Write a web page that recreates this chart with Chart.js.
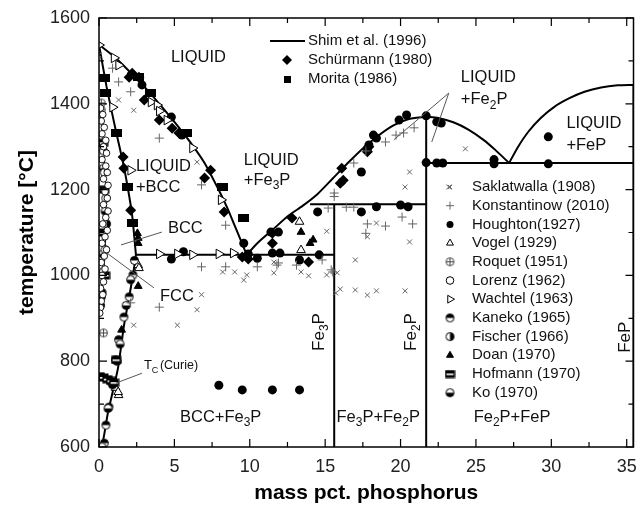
<!DOCTYPE html>
<html><head><meta charset="utf-8">
<script src="https://cdn.jsdelivr.net/npm/chart.js@4.4.1/dist/chart.umd.min.js"></script>
<style>html,body{margin:0;padding:0;background:#fff;}#wrap{width:640px;height:506px;}</style>
</head><body><div id="wrap"><canvas id="c" width="640" height="506"></canvas></div>
<script>
// ---------- axis ticks ----------
const xTickValues=[0,5,10,15,20,25,30,35];
const xMinorValues=[2.5,7.5,12.5,17.5,22.5,27.5,32.5];
const yTickValues=[600,800,1000,1200,1400,1600];
const yMinorValues=[700,900,1100,1300,1500];
const xMin=0, xMax=35.45, yMin=600, yMax=1600;

// ---------- Shim et al. (1996) calculated lines ----------
const liqFeX=[0,1,2,3,4,5,6,7,8,8.5,9,9.4,9.8];
const liqFeT=[1538,1510,1476,1440,1400,1358,1313,1262,1195,1158,1116,1082,1048];
const liqFe3PX=[9.8,10.5,11.5,12.6,13.5,14.5,15.5,16.5,17.5,18.5,19.5,20.5,21.7];
const liqFe3PT=[1048,1075,1106,1140,1162,1190,1226,1262,1296,1325,1349,1364,1370];
const liqFe2PX=[21.7,22.5,23.5,24.5,25.5,26.3,27.2];
const liqFe2PT=[1370,1367,1357,1340,1316,1292,1262];
const liqFePX=[27.2,27.8,28.5,29.3,30.2,31.2,32.2,33.3,34.4,35.45];
const liqFePT=[1262,1300,1336,1367,1393,1413,1428,1438,1443,1444];
const solidusX=[0,0.5,1.1,1.6,1.9,2.2,2.45];
const solidusT=[1538,1440,1340,1262,1206,1140,1048];
const solvusX=[2.45,2.25,1.95,1.66,1.45,1.26,1.05,0.8,0.6,0.4,0.2];
const solvusT=[1048,1000,940,884,830,784,750,712,682,640,600];
const gammaX=[0,0.25,0.42,0.48,0.4,0.22,0];
const gammaT=[1394,1320,1230,1150,1050,970,912];
const eutFeX=[2.45,15.6], eutFeT=[1048,1048];
const fe3pX=[15.6,15.6], fe3pT=[600,1166];
const peritX=[14.0,21.7], peritT=[1166,1166];
const fe2pX=[21.7,21.7], fe2pT=[600,1370];
const eut2X=[21.7,35.45], eut2T=[1262,1262];
const fepX=[35.45,35.45], fepT=[600,1444];

// ---------- experimental data ----------
const schurX=[2.0,2.2,2.65,3.0,4.0,4.85,5.3,7.0,7.4,8.3,9.5,9.9,11.5,11.5,1.6,1.65,2.1,12.8,13.9,16.0,16.1,16.2,17.8,17.9];
const schurT=[1462,1471,1462,1409,1362,1343,1332,1227,1245,1148,1043,1038,1075,1098,1276,1250,1152,1134,1031,1215,1250,1222,1288,1300];
const moritaX=[0.35,0.45,1.15,1.9,2.25,2.65,3.4,5.8,8.2,9.6];
const moritaT=[1460,1425,1332,1206,1122,1462,1425,1332,1206,1134];
const saklX=[0,1.3,2.3,6.5,2.3,5.2,6.5,6.8,8.2,9.0,9.6,9.8,11.6,11.6,13.4,13.9,15.1,15.8,15.1,15.7,16.0,17.0,17.8,18.4,20.3,17.0,17.8,18.4,20.6,20.3,20.6,23.2,24.3];
const saklT=[1514,1409,1385,1264,884,884,920,955,1008,1008,989,1001,1031,1006,1008,999,1001,1006,1103,959,968,966,954,964,964,1036,1090,1122,1078,1206,1241,1206,1295];
const konsX=[0.9,1.3,2.1,4.0,6.8,8.4,6.8,8.4,10.5,11.8,4.0,2.1,15.6,15.6,16.9,17.7,19.0,19.7,20.2,20.9,15.2,16.4,16.9,17.8,19.0,17.7,20.1,20.8,11.9,13.1,14.8,15.4,15.5];
const konsT=[1483,1451,1428,1320,1211,1117,1020,1020,1020,1024,926,936,1192,1184,1262,1290,1311,1327,1332,1344,1157,1159,1159,1120,1115,1098,1136,1120,1029,1024,1036,1013,1008];
const hougX=[2.85,4.8,5.5,4.8,5.6,9.6,10.5,11.5,12.0,11.4,11.9,13.3,14.6,14.5,17.4,18.4,20.0,20.5,7.95,9.5,11.5,13.3,17.4,17.8,17.9,18.2,18.4,19.9,20.4,21.7,22.4,22.7,21.7,22.4,22.8,26.2,26.2,29.8,29.8,9.9];
const hougT=[1444,1369,1327,1038,1055,1075,1040,1052,1052,1101,1101,1036,1048,1148,1148,1160,1164,1160,744,733,733,733,1241,1295,1304,1327,1320,1362,1374,1372,1358,1355,1263,1262,1262,1270,1260,1260,1323,1050];
const vogelX=[2.6,2.65,1.1,1.3,1.27,13.3,13.4];
const vogelT=[1024,1017,738,721,728,1125,1059];
const roquetX=[0.15,0.15,0.3];
const roquetT=[1402,1386,866];
const lorenzX=[0.1,0.25,0.15,0.35,0.2,0.45,0.3,0.5,0.2,0.45,0.55,0.3,0.6,0.4,0.55,0.3,0.6,0.45,0.25,0.55,0.4,0.2,0.5,0.35,0.15,0.4,0.2,0.3,0.1,0.25,0.15,0.1,0.05];
const lorenzT=[1390,1375,1360,1345,1330,1315,1300,1285,1270,1255,1240,1225,1210,1195,1180,1165,1150,1135,1120,1105,1090,1075,1060,1045,1030,1015,1000,985,970,955,940,925,912];
const wachX=[0,1.0,1.3,0.9,2.1,3.45,3.85,4.0,4.5,6.2,8.1,4.0,5.2,6.2,7.95,8.9];
const wachT=[1537,1507,1490,1392,1245,1404,1397,1383,1362,1297,1176,1050,1050,1048,1050,1052];
const kanekoX=[2.25,2.0,1.65,1.3,1.1,0.8,0.66,0.46,0.35,2.35];
const kanekoT=[1001,950,903,850,803,751,693,651,609,1035];
const fischerX=[0.3,0.35,0.45,0.5,0.4,0.3,0.2,0.1];
const fischerT=[1290,1240,1180,1120,1060,1010,960,930];
const doanX=[2.6,2.6,2.55,1.5,2.6,14.2,14.0,13.4];
const doanT=[1087,1075,1098,873,975,1083,1075,1101];
const hofX=[0.05,0.3,0.55,0.8,1.0,1.13,0.27,0.35,0.2,0.4];
const hofT=[765,762,758,754,750,803,1309,1200,1100,1000];
const koX=[0.2,0.6,0.9,1.2,1.4,1.8,2.1,0.3,0.4,0.25,0.15];
const koT=[600,690,745,800,840,930,990,1250,1150,1050,950];

// ---------- annotation texts (data coordinates) ----------
const lblText=['LIQUID','LIQUID','+BCC','LIQUID','+Fe_3P','BCC','FCC','BCC+Fe_3P','Fe_3P+Fe_2P','Fe_2P+FeP','LIQUID','+Fe_2P','LIQUID','+FeP'];
const lblX=[4.77,2.45,2.45,9.6,9.6,4.57,4.04,5.37,15.75,24.85,24.0,24.0,31.0,31.0];
const lblT=[1509,1253,1206,1269,1222,1110,950,668,670,670,1462,1409,1355,1304];
const vlblText=['Fe_3P','Fe_2P','FeP'];
const vlblX=[14.6,20.7,34.9];
const vlblT=[868,868,856];
const leaderX1=[4.17,3.64,2.85,23.2,23.2], leaderT1=[1101,971,772,1425,1425];
const leaderX2=[1.46,0.53,1.13,19.55,22.07], leaderT2=[1071,1052,749,1316,1311];

const legend1=['Shim et al. (1996)','Schürmann (1980)','Morita (1986)'];
const legend2=['Saklatwalla (1908)','Konstantinow (2010)','Houghton(1927)','Vogel (1929)','Roquet (1951)','Lorenz (1962)','Wachtel (1963)','Kaneko (1965)','Fischer (1966)','Doan (1970)','Hofmann (1970)','Ko (1970)'];

const FONT='"Liberation Sans", Arial, sans-serif';
Chart.defaults.font.family=FONT;

function pts(xs,ts){return xs.map((x,i)=>({x:x,y:ts[i]}));}
function mk(w,h,fn){const c=document.createElement('canvas');c.width=w;c.height=h;fn(c.getContext('2d'),w,h);return c;}
const R=4;
const stRoquet=mk(11,11,g=>{g.strokeStyle='#444';g.lineWidth=1;g.beginPath();g.arc(5.5,5.5,4,0,2*Math.PI);g.moveTo(1.5,5.5);g.lineTo(9.5,5.5);g.moveTo(5.5,1.5);g.lineTo(5.5,9.5);g.stroke();});
const halfCircle=(a0,a1)=>mk(11,11,g=>{g.fillStyle='#fff';g.beginPath();g.arc(5.5,5.5,R,0,2*Math.PI);g.fill();g.fillStyle='#000';g.beginPath();g.arc(5.5,5.5,R,a0,a1);g.closePath();g.fill();g.strokeStyle='#000';g.lineWidth=1;g.beginPath();g.arc(5.5,5.5,R,0,2*Math.PI);g.stroke();});
const stKaneko=halfCircle(Math.PI,2*Math.PI);
const stFischer=halfCircle(-Math.PI/2,Math.PI/2);
const stKo=halfCircle(0,Math.PI);
const stHof=mk(11,9,g=>{g.fillStyle='#000';g.fillRect(0.5,0.5,10,8);g.fillStyle='#fff';g.fillRect(2,4,7,1.6);});
const stMorita=mk(11,8,g=>{g.fillStyle='#000';g.fillRect(0,0,11,8);});
const stMoritaLeg=mk(7,7,g=>{g.fillStyle='#000';g.fillRect(0,0,7,7);});

function lineDs(xs,ts,w,tension){return {type:'scatter',data:pts(xs,ts),showLine:true,borderColor:'#000',backgroundColor:'#000',borderWidth:w||2,pointRadius:0,tension:tension||0,order:5};}
function ptDs(xs,ts,style,r,fill,stroke,bw,rot){return {type:'scatter',data:pts(xs,ts),showLine:false,pointStyle:style,pointRadius:r,pointHoverRadius:r,backgroundColor:fill,borderColor:stroke,pointBorderWidth:bw,borderWidth:bw,rotation:rot||0,order:1};}

const datasets=[
 ptDs(saklX,saklT,'crossRot',3.5,'#666','#666',1),
 ptDs(konsX,konsT,'cross',4.5,'#666','#666',1),
 ptDs(lorenzX,lorenzT,'circle',3.3,'#fff','#000',0.9),
 ptDs(roquetX,roquetT,stRoquet,4,'#fff','#444',1),
 ptDs(fischerX,fischerT,stFischer,4,'#000','#000',1),
 ptDs(hofX,hofT,stHof,4,'#000','#000',1),
 ptDs(koX,koT,stKo,4,'#000','#000',1),
 ptDs(kanekoX,kanekoT,stKaneko,4,'#000','#000',1),
 ptDs(vogelX,vogelT,'triangle',5,'#fff','#000',1),
 ptDs(doanX,doanT,'triangle',4.5,'#000','#000',1),
 ptDs(wachX,wachT,'triangle',5.5,'#fff','#000',1,90),
 ptDs(hougX,hougT,'circle',4.5,'#000','#000',0),
 ptDs(moritaX,moritaT,stMorita,4,'#000','#000',0),
 ptDs(schurX,schurT,'rectRot',5.5,'#000','#000',0),
 lineDs(liqFeX,liqFeT,2,0.25),
 lineDs(liqFe3PX,liqFe3PT,2,0.25),
 lineDs(liqFe2PX,liqFe2PT,2,0.25),
 lineDs(liqFePX,liqFePT,2,0.25),
 lineDs(solidusX,solidusT,2,0.2),
 lineDs(solvusX,solvusT,2,0.2),
 lineDs(gammaX,gammaT,1,0.3),
 lineDs(eutFeX,eutFeT,2),
 lineDs(fe3pX,fe3pT,2),
 lineDs(peritX,peritT,2),
 lineDs(fe2pX,fe2pT,2),
 lineDs(eut2X,eut2T,2),
 lineDs(fepX,fepT,2)
];
const legend2Style=[
 ['crossRot',3,'#666','#666',1,0],['cross',4,'#666','#666',1,0],['circle',3.5,'#000','#000',0,0],['triangle',4,'#fff','#000',1,0],
 [stRoquet,4,'#fff','#444',1,0],['circle',3.8,'#fff','#000',1,0],['triangle',4.5,'#fff','#000',1,90],[stKaneko,4,'#000','#000',1,0],
 [stFischer,4,'#000','#000',1,0],['triangle',4,'#000','#000',1,0],[stHof,4,'#000','#000',1,0],[stKo,4,'#000','#000',1,0]];

function rich(ctx,str,x,y,size,align){
  const parts=[];
  for(let i=0;i<str.length;i++){
    if(str[i]==='_'){parts.push({t:str[i+1],s:true});i++;}
    else if(parts.length&&!parts[parts.length-1].s){parts[parts.length-1].t+=str[i];}
    else parts.push({t:str[i],s:false});
  }
  const fN=size+'px '+FONT, fS=Math.round(size*0.72)+'px '+FONT;
  let w=0;parts.forEach(p=>{ctx.font=p.s?fS:fN;p.w=ctx.measureText(p.t).width;w+=p.w;});
  let cx=align==='center'?x-w/2:x;
  ctx.textAlign='left';ctx.textBaseline='middle';
  parts.forEach(p=>{ctx.font=p.s?fS:fN;ctx.fillText(p.t,cx,y+(p.s?size*0.32:0));cx+=p.w;});
}

const deco={
 id:'deco',
 afterDraw(chart){
  const ctx=chart.ctx,a=chart.chartArea,xs=chart.scales.x,ys=chart.scales.y;
  ctx.save();
  // frame
  ctx.strokeStyle='#000';ctx.lineWidth=1.5;
  ctx.strokeRect(a.left,a.top,a.right-a.left,a.bottom-a.top);
  // inward ticks
  ctx.lineWidth=1.2;ctx.beginPath();
  const tx=(v,L)=>{const p=xs.getPixelForValue(v);ctx.moveTo(p,a.bottom);ctx.lineTo(p,a.bottom-L);ctx.moveTo(p,a.top);ctx.lineTo(p,a.top+L);};
  const ty=(v,L)=>{const p=ys.getPixelForValue(v);ctx.moveTo(a.left,p);ctx.lineTo(a.left+L,p);ctx.moveTo(a.right,p);ctx.lineTo(a.right-L,p);};
  xTickValues.forEach(v=>tx(v,8));xMinorValues.forEach(v=>tx(v,5));
  yTickValues.forEach(v=>ty(v,8));yMinorValues.forEach(v=>ty(v,5));
  ctx.stroke();
  // leaders
  ctx.strokeStyle='#555';ctx.lineWidth=1;ctx.beginPath();
  leaderX1.forEach((v,i)=>{ctx.moveTo(xs.getPixelForValue(v),ys.getPixelForValue(leaderT1[i]));ctx.lineTo(xs.getPixelForValue(leaderX2[i]),ys.getPixelForValue(leaderT2[i]));});
  ctx.stroke();
  // region labels
  ctx.fillStyle='#111';
  lblText.forEach((t,i)=>rich(ctx,t,xs.getPixelForValue(lblX[i]),ys.getPixelForValue(lblT[i]),16.5,'left'));
  rich(ctx,'T_C',xs.getPixelForValue(2.98),ys.getPixelForValue(789),13,'left');
  ctx.font='12.5px '+FONT;ctx.fillText('(Curie)',xs.getPixelForValue(2.98)+16,ys.getPixelForValue(789));
  vlblText.forEach((t,i)=>{ctx.save();ctx.translate(xs.getPixelForValue(vlblX[i]),ys.getPixelForValue(vlblT[i]));ctx.rotate(-Math.PI/2);rich(ctx,t,0,0,17,'center');ctx.restore();});
  // legend 1
  ctx.strokeStyle='#000';ctx.lineWidth=2;ctx.beginPath();ctx.moveTo(270,41);ctx.lineTo(305,41);ctx.stroke();
  ctx.fillStyle='#000';
  Chart.helpers.drawPoint(ctx,{pointStyle:'rectRot',radius:5,rotation:0,borderWidth:0},287,60);
  Chart.helpers.drawPoint(ctx,{pointStyle:stMoritaLeg,radius:4,rotation:0,borderWidth:0},287,79);
  ctx.fillStyle='#111';ctx.font='15px '+FONT;ctx.textAlign='left';ctx.textBaseline='middle';
  legend1.forEach((t,i)=>ctx.fillText(t,308,41+19*i));
  // legend 2
  legend2.forEach((t,i)=>{
    const yy=187+18.7*i,s=legend2Style[i];
    ctx.fillStyle=s[2];ctx.strokeStyle=s[3];ctx.lineWidth=s[4];
    Chart.helpers.drawPoint(ctx,{pointStyle:s[0],radius:s[1],rotation:s[5],borderWidth:s[4]},450,yy);
    ctx.fillStyle='#111';ctx.font='15px '+FONT;ctx.textAlign='left';ctx.textBaseline='middle';
    ctx.fillText(t,472,yy);
  });
  // axis titles
  ctx.fillStyle='#000';ctx.font='bold 21px '+FONT;ctx.textAlign='center';ctx.textBaseline='middle';
  ctx.fillText('mass pct. phosphorus',(a.left+a.right)/2,493);
  ctx.save();ctx.translate(27,(a.top+a.bottom)/2);ctx.rotate(-Math.PI/2);ctx.fillText('temperature [°C]',0,0);ctx.restore();
  ctx.restore();
 }
};

new Chart(document.getElementById('c'),{
 type:'scatter',
 data:{datasets:datasets},
 options:{
  responsive:false,animation:false,devicePixelRatio:1,
  layout:{padding:{top:18,right:6,left:0,bottom:0}},
  plugins:{legend:{display:false},tooltip:{enabled:false}},
  scales:{
   x:{type:'linear',min:xMin,max:xMax,
      grid:{display:false,drawTicks:false},border:{display:false},
      ticks:{font:{size:18},color:'#222',padding:9,maxRotation:0,autoSkip:false,callback:v=>String(v)},
      afterBuildTicks:s=>{s.ticks=xTickValues.map(v=>({value:v}));},
      afterFit:s=>{s.height=59;s.paddingLeft=0;s.paddingRight=0;}},
   y:{type:'linear',min:yMin,max:yMax,
      grid:{display:false,drawTicks:false},border:{display:false},
      ticks:{font:{size:18},color:'#222',padding:9,autoSkip:false,callback:v=>String(v)},
      afterBuildTicks:s=>{s.ticks=yTickValues.map(v=>({value:v}));},
      afterFit:s=>{s.width=99;s.paddingTop=0;s.paddingBottom=0;}}
  }
 },
 plugins:[deco]
});
</script></body></html>
